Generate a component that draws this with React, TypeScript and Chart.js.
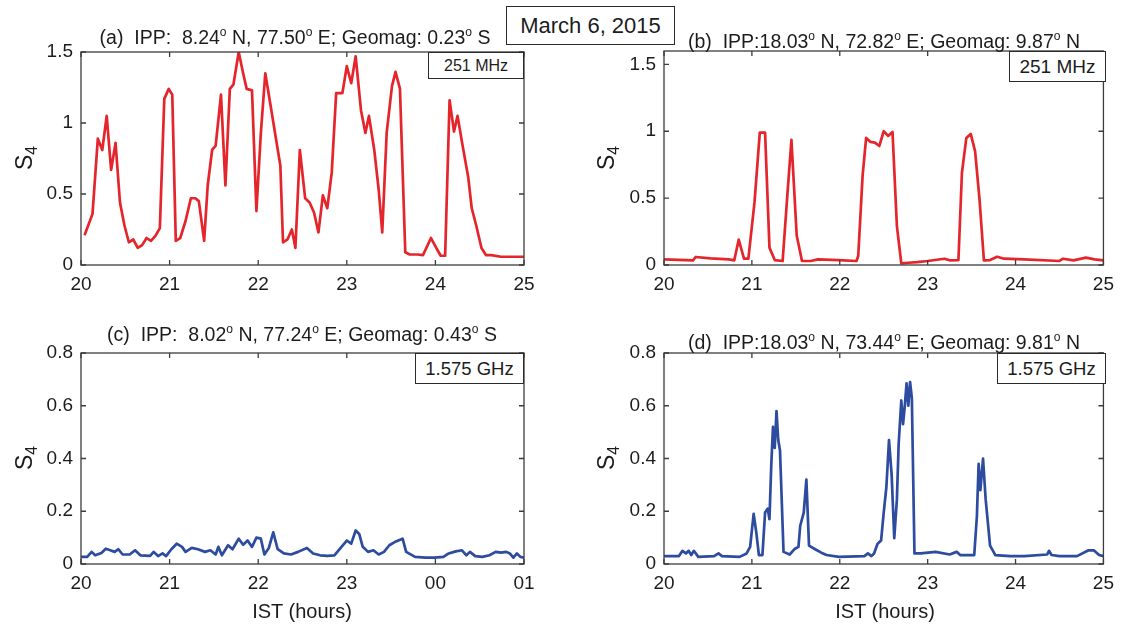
import React, { useEffect, useRef } from 'react';
import { Chart, registerables } from 'chart.js';

Chart.register(...registerables);

const FONT = '"Liberation Sans", Arial, Helvetica, sans-serif';
const RED = '#e4262c';
const BLUE = '#2d4b9f';
const INK = '#1c1c1c';

// ---------- data ----------
const hourTicks = [20, 21, 22, 23, 24, 25];
const hourLabels = ['20', '21', '22', '23', '24', '25'];
const hourLabelsC = ['20', '21', '22', '23', '00', '01'];
const vhfTicks = [0, 0.5, 1, 1.5];
const vhfTickLabels = ['0', '0.5', '1', '1.5'];
const lbandTicks = [0, 0.2, 0.4, 0.6, 0.8];
const lbandTickLabels = ['0', '0.2', '0.4', '0.6', '0.8'];

// (a) 251 MHz, IPP 8.24 N
const timeA = [20.04, 20.13, 20.19, 20.24, 20.29, 20.34, 20.39, 20.44, 20.49, 20.54,
  20.59, 20.64, 20.69, 20.74, 20.79, 20.84, 20.89, 20.94, 20.99, 21.03,
  21.07, 21.12, 21.18, 21.24, 21.29, 21.33, 21.39, 21.43, 21.48, 21.52,
  21.58, 21.63, 21.68, 21.72, 21.78, 21.83, 21.87, 21.93, 21.98, 22.03,
  22.08, 22.13, 22.19, 22.25, 22.28, 22.33, 22.38, 22.42, 22.47, 22.53,
  22.58, 22.63, 22.68, 22.73, 22.78, 22.83, 22.88, 22.95, 23.0, 23.05,
  23.10, 23.16, 23.21, 23.25, 23.31, 23.36, 23.40, 23.45, 23.51, 23.55,
  23.60, 23.66, 23.71, 23.80, 23.86, 23.95, 24.01, 24.06, 24.11, 24.16,
  24.21, 24.25, 24.31, 24.37, 24.41, 24.46, 24.52, 24.57, 24.63, 24.74, 25.0];
const s4A = [0.21, 0.36, 0.89, 0.81, 1.05, 0.67, 0.86, 0.44, 0.28, 0.16,
  0.18, 0.12, 0.14, 0.19, 0.17, 0.205, 0.26, 1.17, 1.24, 1.2,
  0.17, 0.19, 0.31, 0.47, 0.47, 0.45, 0.17, 0.56, 0.81, 0.84,
  1.2, 0.56, 1.24, 1.27, 1.5, 1.35, 1.24, 1.23, 0.38, 0.93,
  1.35, 1.16, 0.93, 0.70, 0.16, 0.18, 0.25, 0.12, 0.81, 0.47,
  0.44, 0.37, 0.23, 0.49, 0.40, 0.65, 1.21, 1.21, 1.40, 1.28,
  1.47, 1.09, 0.93, 1.05, 0.81, 0.53, 0.23, 0.93, 1.26, 1.36,
  1.24, 0.09, 0.074, 0.074, 0.07, 0.19, 0.12, 0.065, 0.065, 1.16,
  0.94, 1.05, 0.83, 0.62, 0.40, 0.28, 0.12, 0.07, 0.07, 0.058, 0.058];

// (b) 251 MHz, IPP 18.03 N
const timeB = [20.0, 20.33, 20.36, 20.53, 20.74, 20.80, 20.85, 20.91, 20.96, 21.03,
  21.09, 21.15, 21.20, 21.26, 21.35, 21.40, 21.45, 21.51, 21.57, 21.67,
  21.75, 21.99, 22.19, 22.21, 22.26, 22.30, 22.35, 22.40, 22.45, 22.50,
  22.55, 22.60, 22.65, 22.70, 22.78, 22.88, 23.0, 23.19, 23.25, 23.35,
  23.39, 23.44, 23.49, 23.54, 23.59, 23.64, 23.71, 23.79, 23.87, 24.10,
  24.5, 24.54, 24.66, 24.8, 24.9, 25.0];
const s4B = [0.042, 0.035, 0.06, 0.05, 0.042, 0.035, 0.19, 0.047, 0.047, 0.47,
  0.99, 0.99, 0.13, 0.037, 0.03, 0.49, 0.935, 0.22, 0.03, 0.03,
  0.042, 0.037, 0.03, 0.067, 0.67, 0.95, 0.92, 0.915, 0.89, 1.0,
  0.965, 0.995, 0.29, 0.012, 0.017, 0.022, 0.03, 0.047, 0.035, 0.037,
  0.69, 0.95, 0.98, 0.85, 0.49, 0.035, 0.037, 0.062, 0.047, 0.042,
  0.03, 0.047, 0.035, 0.055, 0.042, 0.035];

// (c) 1.575 GHz, IPP 8.02 N
const timeC = [20.0, 20.07, 20.12, 20.16, 20.23, 20.28, 20.33, 20.38, 20.42, 20.47,
  20.55, 20.61, 20.67, 20.78, 20.82, 20.87, 20.92, 20.96, 21.02, 21.08,
  21.14, 21.18, 21.25, 21.32, 21.40, 21.46, 21.52, 21.55, 21.59, 21.66,
  21.71, 21.78, 21.83, 21.88, 21.93, 21.98, 22.03, 22.07, 22.12, 22.17,
  22.22, 22.29, 22.37, 22.45, 22.55, 22.62, 22.70, 22.78, 22.86, 22.94,
  23.0, 23.05, 23.10, 23.14, 23.18, 23.24, 23.30, 23.36, 23.42, 23.48,
  23.54, 23.63, 23.67, 23.77, 23.89, 23.99, 24.09, 24.15, 24.23, 24.30,
  24.35, 24.39, 24.45, 24.53, 24.61, 24.68, 24.74, 24.80, 24.84, 24.88,
  24.92, 24.96, 25.0];
const s4C = [0.027, 0.027, 0.046, 0.033, 0.042, 0.058, 0.052, 0.046, 0.056, 0.036,
  0.036, 0.052, 0.033, 0.031, 0.046, 0.03, 0.04, 0.03, 0.056, 0.077,
  0.065, 0.046, 0.061, 0.056, 0.046, 0.052, 0.036, 0.065, 0.033, 0.071,
  0.056, 0.096, 0.073, 0.089, 0.065, 0.10, 0.096, 0.036, 0.061, 0.12,
  0.056, 0.04, 0.036, 0.046, 0.061, 0.04, 0.033, 0.031, 0.033, 0.065,
  0.089, 0.077, 0.127, 0.114, 0.065, 0.046, 0.052, 0.036, 0.046, 0.071,
  0.083, 0.096, 0.046, 0.027, 0.024, 0.024, 0.027, 0.04, 0.048, 0.052,
  0.033, 0.046, 0.03, 0.027, 0.033, 0.046, 0.043, 0.046, 0.04, 0.024,
  0.04, 0.027, 0.024];

// (d) 1.575 GHz, IPP 18.03 N
const timeD = [20.0, 20.17, 20.21, 20.25, 20.28, 20.31, 20.34, 20.39, 20.57, 20.62,
  20.66, 20.86, 20.94, 20.98, 21.02, 21.05, 21.08, 21.12, 21.15, 21.18,
  21.20, 21.22, 21.24, 21.26, 21.28, 21.30, 21.32, 21.36, 21.43, 21.49,
  21.53, 21.55, 21.59, 21.62, 21.65, 21.72, 21.79, 21.85, 21.99, 22.28,
  22.32, 22.36, 22.39, 22.43, 22.47, 22.50, 22.53, 22.56, 22.59, 22.62,
  22.65, 22.67, 22.70, 22.72, 22.74, 22.76, 22.78, 22.80, 22.82, 22.85,
  22.92, 23.09, 23.25, 23.33, 23.37, 23.53, 23.56, 23.58, 23.60, 23.63,
  23.66, 23.71, 23.77, 23.94, 24.10, 24.36, 24.38, 24.41, 24.50, 24.70,
  24.83, 24.89, 24.95, 25.0];
const s4D = [0.03, 0.03, 0.05, 0.04, 0.05, 0.034, 0.05, 0.027, 0.03, 0.04,
  0.03, 0.027, 0.04, 0.065, 0.19, 0.12, 0.034, 0.034, 0.195, 0.21,
  0.17, 0.37, 0.52, 0.44, 0.58, 0.47, 0.43, 0.046, 0.036, 0.058,
  0.065, 0.145, 0.195, 0.32, 0.07, 0.056, 0.043, 0.034, 0.027, 0.03,
  0.04, 0.03, 0.04, 0.077, 0.089, 0.195, 0.29, 0.47, 0.34, 0.098,
  0.245, 0.455, 0.62, 0.53, 0.60, 0.685, 0.60, 0.69, 0.63, 0.04,
  0.04, 0.046, 0.036, 0.046, 0.034, 0.034, 0.18, 0.38, 0.28, 0.40,
  0.245, 0.07, 0.034, 0.03, 0.03, 0.036, 0.05, 0.034, 0.03, 0.03,
  0.052, 0.052, 0.034, 0.03];

// ---------- chart helpers ----------
const boxPlugin = {
  id: 'matlabBox',
  afterDatasetsDraw(chart: any) {
    const { ctx, chartArea: a, scales } = chart;
    ctx.save();
    ctx.strokeStyle = '#3c3c3c';
    ctx.lineWidth = 1.3;
    ctx.strokeRect(a.left, a.top, a.right - a.left, a.bottom - a.top);
    const tl = 5;
    ctx.beginPath();
    scales.x.ticks.forEach((t: any) => {
      const px = scales.x.getPixelForValue(t.value);
      ctx.moveTo(px, a.bottom); ctx.lineTo(px, a.bottom - tl);
      ctx.moveTo(px, a.top); ctx.lineTo(px, a.top + tl);
    });
    scales.y.ticks.forEach((t: any) => {
      const py = scales.y.getPixelForValue(t.value);
      ctx.moveTo(a.left, py); ctx.lineTo(a.left + tl, py);
      ctx.moveTo(a.right, py); ctx.lineTo(a.right - tl, py);
    });
    ctx.stroke();
    ctx.restore();
  },
};

type PanelProps = {
  box: [number, number, number, number];
  plot: [number, number, number, number];
  xs: number[];
  ys: number[];
  color: string;
  yMax: number;
  yTicks: number[];
  yLabels: string[];
  xLabels: string[];
};

function Panel(p: PanelProps) {
  const ref = useRef<HTMLCanvasElement>(null);
  useEffect(() => {
    const [cx, cy, cw, ch] = p.box;
    const [L, T, R, B] = p.plot;
    const chart = new Chart(ref.current as HTMLCanvasElement, {
      type: 'line',
      data: {
        datasets: [{
          data: p.xs.map((x, i) => ({ x, y: p.ys[i] })),
          borderColor: p.color,
          borderWidth: 2.7,
          borderJoinStyle: 'round',
          pointRadius: 0,
          tension: 0,
          fill: false,
        }],
      },
      options: {
        animation: false,
        responsive: false,
        devicePixelRatio: 1,
        layout: { padding: { left: 0, top: T - cy, right: cx + cw - R, bottom: 0 } },
        plugins: { legend: { display: false }, tooltip: { enabled: false }, title: { display: false } },
        scales: {
          x: {
            type: 'linear', min: 20, max: 25,
            afterFit: (s: any) => { s.height = cy + ch - B; },
            afterBuildTicks: (s: any) => { s.ticks = hourTicks.map((v) => ({ value: v })); },
            ticks: {
              autoSkip: false, maxRotation: 0, padding: 8, color: INK,
              font: { family: FONT, size: 19 },
              callback: (_v: any, i: number) => p.xLabels[i],
            },
            grid: { display: false, drawTicks: false },
            border: { display: false },
          },
          y: {
            type: 'linear', min: 0, max: p.yMax,
            afterFit: (s: any) => { s.width = L - cx; },
            afterBuildTicks: (s: any) => { s.ticks = p.yTicks.map((v) => ({ value: v })); },
            ticks: {
              autoSkip: false, padding: 8, color: INK,
              font: { family: FONT, size: 19 },
              callback: (_v: any, i: number) => p.yLabels[i],
            },
            grid: { display: false, drawTicks: false },
            border: { display: false },
          },
        },
      } as any,
      plugins: [boxPlugin],
    });
    return () => chart.destroy();
  }, []);
  const [cx, cy, cw, ch] = p.box;
  return (
    <canvas ref={ref} width={cw} height={ch}
      style={{ position: 'absolute', left: cx, top: cy, width: cw, height: ch }} />
  );
}

function Title({ text, cx, baseline }: { text: string; cx: number; baseline: number }) {
  const parts = text.split('°');
  return (
    <div style={{
      position: 'absolute', left: cx, top: baseline - 18, transform: 'translateX(-50%)',
      font: `19.5px ${FONT}`, lineHeight: '22px', whiteSpace: 'pre', color: INK,
    }}>
      {parts.map((t, i) => (
        <React.Fragment key={i}>
          {t}
          {i < parts.length - 1 && (
            <span style={{ fontSize: '0.62em', position: 'relative', top: '-0.63em' }}>o</span>
          )}
        </React.Fragment>
      ))}
    </div>
  );
}

function YLabel({ cx, cy }: { cx: number; cy: number }) {
  return (
    <div style={{
      position: 'absolute', left: cx, top: cy, transform: 'translate(-50%, -50%) rotate(-90deg)',
      font: `23px ${FONT}`, lineHeight: '26px', whiteSpace: 'nowrap', color: INK,
    }}>
      S<span style={{ fontSize: '0.68em', position: 'relative', top: '0.3em' }}>4</span>
    </div>
  );
}

function TextBox({ x, y, w, h, size, text }: { x: number; y: number; w: number; h: number; size: number; text: string }) {
  return (
    <div style={{
      position: 'absolute', left: x, top: y, width: w, height: h, boxSizing: 'border-box',
      border: '1.5px solid #2a2a2a', background: '#fff', display: 'flex',
      alignItems: 'center', justifyContent: 'center', font: `${size}px ${FONT}`,
      color: INK, whiteSpace: 'nowrap',
    }}>{text}</div>
  );
}

function XLabel({ cx, cy }: { cx: number; cy: number }) {
  return (
    <div style={{
      position: 'absolute', left: cx, top: cy, transform: 'translate(-50%, -50%)',
      font: `20px ${FONT}`, whiteSpace: 'nowrap', color: INK,
    }}>IST (hours)</div>
  );
}

export default function App() {
  return (
    <div style={{ position: 'fixed', left: 0, top: 0, width: 1122, height: 628, background: '#fff', overflow: 'hidden' }}>
      <Panel box={[0, 0, 561, 300]} plot={[81, 52, 524, 265]} xs={timeA} ys={s4A} color={RED}
        yMax={1.5} yTicks={vhfTicks} yLabels={vhfTickLabels} xLabels={hourLabels} />
      <Panel box={[561, 0, 561, 300]} plot={[664, 51, 1106, 265]} xs={timeB} ys={s4B} color={RED}
        yMax={1.6} yTicks={vhfTicks} yLabels={vhfTickLabels} xLabels={hourLabels} />
      <Panel box={[0, 300, 561, 328]} plot={[81, 353, 524, 564]} xs={timeC} ys={s4C} color={BLUE}
        yMax={0.8} yTicks={lbandTicks} yLabels={lbandTickLabels} xLabels={hourLabelsC} />
      <Panel box={[561, 300, 561, 328]} plot={[664, 353, 1106, 564]} xs={timeD} ys={s4D} color={BLUE}
        yMax={0.8} yTicks={lbandTicks} yLabels={lbandTickLabels} xLabels={hourLabels} />

      <Title text="(a)  IPP:  8.24° N, 77.50° E; Geomag: 0.23° S" cx={295} baseline={44} />
      <Title text="(b)  IPP:18.03° N, 72.82° E; Geomag: 9.87° N" cx={884} baseline={48} />
      <Title text="(c)  IPP:  8.02° N, 77.24° E; Geomag: 0.43° S" cx={302} baseline={341} />
      <Title text="(d)  IPP:18.03° N, 73.44° E; Geomag: 9.81° N" cx={884} baseline={349} />

      <YLabel cx={25} cy={158} />
      <YLabel cx={607} cy={158} />
      <YLabel cx={25} cy={458} />
      <YLabel cx={607} cy={458} />

      <XLabel cx={302} cy={611} />
      <XLabel cx={885} cy={611} />

      <TextBox x={428} y={52} w={96} h={27} size={16} text="251 MHz" />
      <TextBox x={1009} y={51} w={97} h={31} size={19} text="251 MHz" />
      <TextBox x={415} y={353} w={109} h={31} size={18.5} text="1.575 GHz" />
      <TextBox x={997} y={353} w={109} h={31} size={18.5} text="1.575 GHz" />

      <TextBox x={506} y={6} w={169} h={39} size={22} text="March 6, 2015" />
    </div>
  );
}
